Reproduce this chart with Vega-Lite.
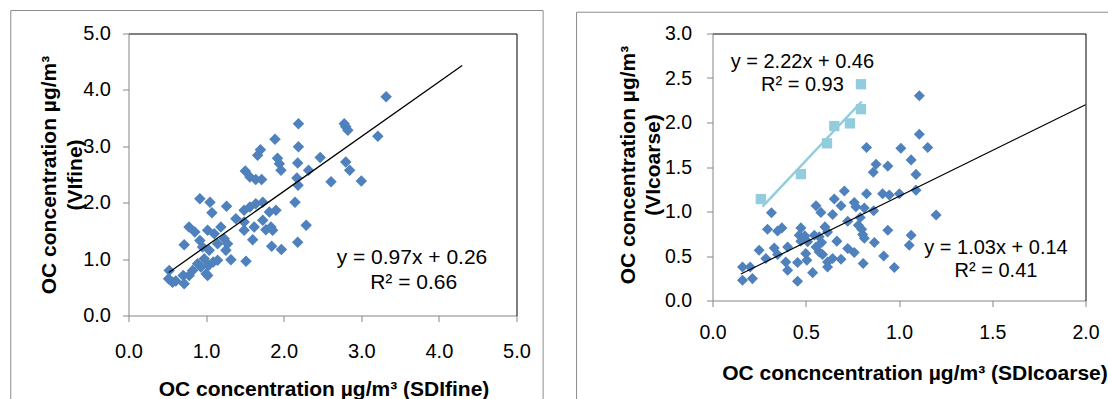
{
  "$schema": "https://vega.github.io/schema/vega-lite/v6.json",
  "padding": {"left": 9.5, "top": 9.5, "right": 0, "bottom": 0},
  "background": "white",
  "bounds": "flush",
  "spacing": 196,
  "datasets": {
    "frame": [{"part": "chart area"}],
    "fine": [
      {"sdi": 2.19, "vi": 3.40}, {"sdi": 1.888, "vi": 3.126}, {"sdi": 1.70, "vi": 2.94}, {"sdi": 1.664, "vi": 2.84},
      {"sdi": 2.19, "vi": 2.99}, {"sdi": 1.92, "vi": 2.79}, {"sdi": 1.944, "vi": 2.69}, {"sdi": 1.965, "vi": 2.575},
      {"sdi": 2.18, "vi": 2.706}, {"sdi": 2.47, "vi": 2.80}, {"sdi": 2.32, "vi": 2.575}, {"sdi": 2.17, "vi": 2.44},
      {"sdi": 2.185, "vi": 2.31}, {"sdi": 1.505, "vi": 2.56}, {"sdi": 1.565, "vi": 2.457}, {"sdi": 1.64, "vi": 2.41},
      {"sdi": 1.716, "vi": 2.41}, {"sdi": 2.146, "vi": 2.01}, {"sdi": 2.29, "vi": 1.60}, {"sdi": 2.18, "vi": 1.30},
      {"sdi": 0.92, "vi": 2.07}, {"sdi": 1.05, "vi": 2.01}, {"sdi": 1.075, "vi": 1.82}, {"sdi": 1.264, "vi": 1.936},
      {"sdi": 1.384, "vi": 1.717}, {"sdi": 1.49, "vi": 1.865}, {"sdi": 1.565, "vi": 1.924}, {"sdi": 1.64, "vi": 1.98},
      {"sdi": 1.73, "vi": 2.01}, {"sdi": 1.815, "vi": 1.835}, {"sdi": 1.90, "vi": 1.865}, {"sdi": 1.49, "vi": 1.658},
      {"sdi": 1.49, "vi": 1.51}, {"sdi": 1.62, "vi": 1.57}, {"sdi": 1.73, "vi": 1.687}, {"sdi": 1.77, "vi": 1.52},
      {"sdi": 1.857, "vi": 1.51}, {"sdi": 1.60, "vi": 1.344}, {"sdi": 1.845, "vi": 1.226}, {"sdi": 1.97, "vi": 1.172},
      {"sdi": 1.514, "vi": 0.96}, {"sdi": 0.78, "vi": 1.57}, {"sdi": 0.855, "vi": 1.48}, {"sdi": 0.718, "vi": 1.255},
      {"sdi": 0.92, "vi": 1.33}, {"sdi": 1.02, "vi": 1.51}, {"sdi": 1.105, "vi": 1.45}, {"sdi": 1.19, "vi": 1.57},
      {"sdi": 1.234, "vi": 1.36}, {"sdi": 1.148, "vi": 1.27}, {"sdi": 0.954, "vi": 1.214}, {"sdi": 1.04, "vi": 1.155},
      {"sdi": 1.255, "vi": 1.155}, {"sdi": 1.32, "vi": 0.99}, {"sdi": 1.148, "vi": 0.98}, {"sdi": 0.976, "vi": 1.006},
      {"sdi": 0.89, "vi": 0.918}, {"sdi": 0.826, "vi": 0.80}, {"sdi": 0.933, "vi": 0.858}, {"sdi": 1.032, "vi": 0.888},
      {"sdi": 1.02, "vi": 0.71}, {"sdi": 0.782, "vi": 0.71}, {"sdi": 0.705, "vi": 0.71}, {"sdi": 0.718, "vi": 0.562},
      {"sdi": 0.61, "vi": 0.61}, {"sdi": 0.516, "vi": 0.65}, {"sdi": 0.524, "vi": 0.80}, {"sdi": 0.567, "vi": 0.59},
      {"sdi": 1.0, "vi": 0.74}, {"sdi": 1.092, "vi": 0.947}, {"sdi": 1.277, "vi": 1.27}, {"sdi": 1.836, "vi": 1.57},
      {"sdi": 3.32, "vi": 3.878}, {"sdi": 2.78, "vi": 3.40}, {"sdi": 2.80, "vi": 3.345}, {"sdi": 2.826, "vi": 3.286},
      {"sdi": 3.213, "vi": 3.18}, {"sdi": 2.80, "vi": 2.72}, {"sdi": 2.85, "vi": 2.575}, {"sdi": 2.61, "vi": 2.37},
      {"sdi": 3.0, "vi": 2.386}
    ],
    "fineTrend": [{"sdi": 0.52, "vi": 0.764}, {"sdi": 4.30, "vi": 4.431}],
    "fineNotes": [
      {"sdi": 3.653, "vi": 0.918, "label": "y = 0.97x + 0.26"},
      {"sdi": 3.675, "vi": 0.474, "label": "R² = 0.66"}
    ],
    "coarse": [
      {"sdi": 1.109, "vi": 2.30}, {"sdi": 1.109, "vi": 1.867}, {"sdi": 1.154, "vi": 1.72}, {"sdi": 1.01, "vi": 1.71},
      {"sdi": 0.826, "vi": 1.72}, {"sdi": 1.065, "vi": 1.58}, {"sdi": 0.877, "vi": 1.53}, {"sdi": 0.94, "vi": 1.51},
      {"sdi": 0.862, "vi": 1.44}, {"sdi": 1.091, "vi": 1.417}, {"sdi": 0.826, "vi": 1.20}, {"sdi": 0.912, "vi": 1.20},
      {"sdi": 0.948, "vi": 1.185}, {"sdi": 1.002, "vi": 1.20}, {"sdi": 1.091, "vi": 1.24}, {"sdi": 1.199, "vi": 0.96},
      {"sdi": 0.707, "vi": 1.23}, {"sdi": 0.653, "vi": 1.14}, {"sdi": 0.689, "vi": 1.064}, {"sdi": 0.76, "vi": 1.10},
      {"sdi": 0.555, "vi": 1.064}, {"sdi": 0.581, "vi": 0.99}, {"sdi": 0.644, "vi": 0.967}, {"sdi": 0.769, "vi": 1.053},
      {"sdi": 0.814, "vi": 1.04}, {"sdi": 0.864, "vi": 1.008}, {"sdi": 0.792, "vi": 0.933}, {"sdi": 0.782, "vi": 0.846},
      {"sdi": 0.725, "vi": 0.891}, {"sdi": 0.805, "vi": 0.741}, {"sdi": 0.814, "vi": 0.70}, {"sdi": 0.868, "vi": 0.652},
      {"sdi": 0.94, "vi": 0.79}, {"sdi": 0.918, "vi": 0.50}, {"sdi": 0.975, "vi": 0.37}, {"sdi": 1.065, "vi": 0.733},
      {"sdi": 1.055, "vi": 0.62}, {"sdi": 0.316, "vi": 0.985}, {"sdi": 0.295, "vi": 0.80}, {"sdi": 0.349, "vi": 0.78},
      {"sdi": 0.372, "vi": 0.816}, {"sdi": 0.25, "vi": 0.565}, {"sdi": 0.286, "vi": 0.471}, {"sdi": 0.331, "vi": 0.591},
      {"sdi": 0.349, "vi": 0.516}, {"sdi": 0.403, "vi": 0.60}, {"sdi": 0.393, "vi": 0.433}, {"sdi": 0.403, "vi": 0.34},
      {"sdi": 0.456, "vi": 0.426}, {"sdi": 0.456, "vi": 0.216}, {"sdi": 0.474, "vi": 0.816}, {"sdi": 0.465, "vi": 0.734},
      {"sdi": 0.495, "vi": 0.726}, {"sdi": 0.474, "vi": 0.667}, {"sdi": 0.51, "vi": 0.659}, {"sdi": 0.50, "vi": 0.527},
      {"sdi": 0.506, "vi": 0.452}, {"sdi": 0.537, "vi": 0.313}, {"sdi": 0.555, "vi": 0.60}, {"sdi": 0.572, "vi": 0.546},
      {"sdi": 0.603, "vi": 0.827}, {"sdi": 0.572, "vi": 0.716}, {"sdi": 0.546, "vi": 0.734}, {"sdi": 0.617, "vi": 0.433},
      {"sdi": 0.59, "vi": 0.516}, {"sdi": 0.617, "vi": 0.377}, {"sdi": 0.644, "vi": 0.471}, {"sdi": 0.667, "vi": 0.667},
      {"sdi": 0.689, "vi": 0.463}, {"sdi": 0.725, "vi": 0.584}, {"sdi": 0.76, "vi": 0.539}, {"sdi": 0.808, "vi": 0.415},
      {"sdi": 0.161, "vi": 0.377}, {"sdi": 0.202, "vi": 0.377}, {"sdi": 0.161, "vi": 0.227}, {"sdi": 0.214, "vi": 0.246},
      {"sdi": 0.617, "vi": 0.771}, {"sdi": 0.80, "vi": 0.80}, {"sdi": 0.585, "vi": 0.652}
    ],
    "coarseSubset": [
      {"sdi": 0.259, "vi": 1.14}, {"sdi": 0.474, "vi": 1.42}, {"sdi": 0.614, "vi": 1.766}, {"sdi": 0.653, "vi": 1.96},
      {"sdi": 0.737, "vi": 1.99}, {"sdi": 0.796, "vi": 2.15}, {"sdi": 0.796, "vi": 2.43}
    ],
    "coarseTrend": [{"sdi": 0.152, "vi": 0.297}, {"sdi": 2.0, "vi": 2.2}],
    "subsetTrend": [{"sdi": 0.268, "vi": 1.055}, {"sdi": 0.80, "vi": 2.236}],
    "coarseNotes": [
      {"sdi": 0.482, "vi": 2.61, "label": "y = 2.22x + 0.46"},
      {"sdi": 0.482, "vi": 2.356, "label": "R² = 0.93"},
      {"sdi": 1.52, "vi": 0.527, "label": "y = 1.03x + 0.14"},
      {"sdi": 1.52, "vi": 0.265, "label": "R² = 0.41"}
    ]
  },
  "hconcat": [
    {
      "width": 388,
      "height": 282,
      "layer": [
        {
          "data": {"name": "frame"},
          "mark": {"type": "rect", "filled": false, "color": "#8c8c8c", "strokeWidth": 1},
          "encoding": {
            "x": {"datum": -1.517, "type": "quantitative", "axis": null},
            "x2": {"datum": 5.343},
            "y": {"datum": 5.408, "type": "quantitative", "axis": null},
            "y2": {"datum": -1.543}
          }
        },
        {
          "data": {"name": "fine"},
          "mark": {"type": "point", "shape": "diamond", "filled": true, "size": 132, "color": "#4F81BD", "opacity": 1},
          "encoding": {
            "x": {"field": "sdi", "type": "quantitative", "scale": {"domain": [0, 5], "nice": false, "zero": false},
              "axis": {"values": [0, 1, 2, 3, 4, 5], "format": ".1f", "labelFontSize": 20, "labelBaseline": "alphabetic", "labelPadding": 36,
                "title": "OC concentration µg/m³ (SDIfine)", "titleFontSize": 21, "titleFontWeight": "bold", "titleBaseline": "alphabetic", "titleY": 80, "titleX": 195}},
            "y": {"field": "vi", "type": "quantitative", "scale": {"domain": [0, 5], "nice": false, "zero": false},
              "axis": {"values": [0, 1, 2, 3, 4, 5], "format": ".1f", "labelFontSize": 20, "labelPadding": 12,
                "title": ["OC concentration µg/m³", "(VIfine)"], "titleFontSize": 21, "titleFontWeight": "bold", "titleBaseline": "middle", "titleAngle": -90, "titleX": -79.5, "titleY": 141, "titleLineHeight": 26.5}}
          }
        },
        {
          "data": {"name": "fineTrend"},
          "mark": {"type": "line", "color": "black", "strokeWidth": 1.3},
          "encoding": {
            "x": {"field": "sdi", "type": "quantitative", "axis": {"orient": "top", "labels": false, "ticks": false, "title": null, "domainColor": "black"}},
            "y": {"field": "vi", "type": "quantitative", "axis": {"orient": "right", "labels": false, "ticks": false, "title": null, "domainColor": "black"}}
          }
        },
        {
          "data": {"name": "fineNotes"},
          "mark": {"type": "text", "fontSize": 21, "align": "center", "baseline": "alphabetic", "color": "black"},
          "encoding": {
            "x": {"field": "sdi", "type": "quantitative", "axis": null},
            "y": {"field": "vi", "type": "quantitative", "axis": null},
            "text": {"field": "label"}
          }
        }
      ],
      "resolve": {"axis": {"x": "independent", "y": "independent"}}
    },
    {
      "width": 373,
      "height": 267,
      "layer": [
        {
          "data": {"name": "frame"},
          "mark": {"type": "rect", "filled": false, "color": "#8c8c8c", "strokeWidth": 1},
          "encoding": {
            "x": {"datum": -0.729, "type": "quantitative", "axis": null},
            "x2": {"datum": 2.133},
            "y": {"datum": 3.239, "type": "quantitative", "axis": null},
            "y2": {"datum": -1.146}
          }
        },
        {
          "data": {"name": "coarse"},
          "mark": {"type": "point", "shape": "diamond", "filled": true, "size": 122, "color": "#4F81BD", "opacity": 1},
          "encoding": {
            "x": {"field": "sdi", "type": "quantitative", "scale": {"domain": [0, 2], "nice": false, "zero": false},
              "axis": {"values": [0, 0.5, 1, 1.5, 2], "format": ".1f", "labelFontSize": 19.5, "labelBaseline": "alphabetic", "labelPadding": 32,
                "title": "OC concncentration µg/m³ (SDIcoarse)", "titleFontSize": 21, "titleFontWeight": "bold", "titleBaseline": "alphabetic", "titleY": 79, "titleX": 202}},
            "y": {"field": "vi", "type": "quantitative", "scale": {"domain": [0, 3], "nice": false, "zero": false},
              "axis": {"values": [0, 0.5, 1, 1.5, 2, 2.5, 3], "format": ".1f", "labelFontSize": 19.5, "labelPadding": 15,
                "title": ["OC concentration µg/m³", "(VIcoarse)"], "titleFontSize": 21, "titleFontWeight": "bold", "titleBaseline": "middle", "titleAngle": -90, "titleX": -84, "titleY": 131, "titleLineHeight": 25}}
          }
        },
        {
          "data": {"name": "coarseSubset"},
          "mark": {"type": "point", "shape": "square", "filled": true, "size": 106, "color": "#93CDDD", "opacity": 1},
          "encoding": {
            "x": {"field": "sdi", "type": "quantitative", "axis": null},
            "y": {"field": "vi", "type": "quantitative", "axis": null}
          }
        },
        {
          "data": {"name": "subsetTrend"},
          "mark": {"type": "line", "color": "#93CDDD", "strokeWidth": 2.5},
          "encoding": {
            "x": {"field": "sdi", "type": "quantitative", "axis": null},
            "y": {"field": "vi", "type": "quantitative", "axis": null}
          }
        },
        {
          "data": {"name": "coarseTrend"},
          "mark": {"type": "line", "color": "black", "strokeWidth": 1.2},
          "encoding": {
            "x": {"field": "sdi", "type": "quantitative", "axis": {"orient": "top", "labels": false, "ticks": false, "title": null, "domainColor": "black"}},
            "y": {"field": "vi", "type": "quantitative", "axis": {"orient": "right", "labels": false, "ticks": false, "title": null, "domainColor": "black"}}
          }
        },
        {
          "data": {"name": "coarseNotes"},
          "mark": {"type": "text", "fontSize": 20, "align": "center", "baseline": "alphabetic", "color": "black"},
          "encoding": {
            "x": {"field": "sdi", "type": "quantitative", "axis": null},
            "y": {"field": "vi", "type": "quantitative", "axis": null},
            "text": {"field": "label"}
          }
        }
      ],
      "resolve": {"axis": {"x": "independent", "y": "independent"}}
    }
  ],
  "config": {
    "font": "Liberation Sans",
    "view": {"stroke": null},
    "axis": {"grid": false, "labelColor": "black", "titleColor": "black", "domainColor": "#868686", "tickColor": "#868686", "tickSize": 6, "labelFlush": false, "labelOverlap": false, "domainWidth": 1, "tickWidth": 1, "labelFont": "Liberation Sans", "titleFont": "Liberation Sans"}
  }
}
